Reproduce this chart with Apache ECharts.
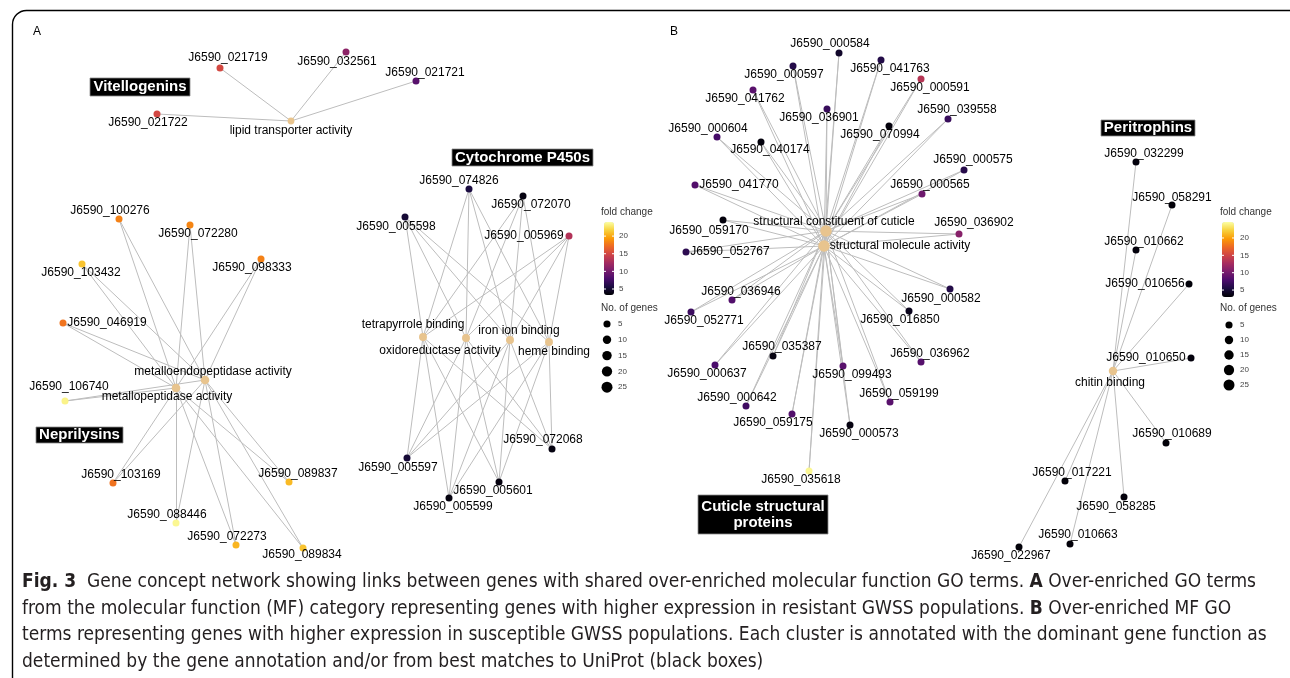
<!DOCTYPE html>
<html>
<head>
<meta charset="utf-8">
<script src="https://cdn.jsdelivr.net/npm/echarts@6/dist/echarts.min.js"></script>
<style>
html, body { margin: 0; padding: 0; background: #fff; }
#chart { width: 1290px; height: 678px; }
</style>
</head>
<body>
<div id="chart"></div>
<script>
// ---- panel A : genes up in resistant populations ----
const genesA = ['J6590_021719', 'J6590_032561', 'J6590_021721', 'J6590_021722',
	'J6590_100276', 'J6590_072280', 'J6590_098333', 'J6590_103432', 'J6590_046919', 'J6590_106740',
	'J6590_103169', 'J6590_089837', 'J6590_088446', 'J6590_072273', 'J6590_089834',
	'J6590_074826', 'J6590_072070', 'J6590_005598', 'J6590_005969', 'J6590_005597',
	'J6590_005599', 'J6590_005601', 'J6590_072068'];
const genesAX = [220, 346, 416, 157, 119, 190, 261, 82, 63, 65, 113, 289, 176, 236, 303, 469, 523, 405, 569, 407, 449, 499, 552];
const genesAY = [68, 52, 81, 114, 219, 225, 259, 264, 323, 401, 483, 482, 523, 545, 548, 189, 196, 217, 236, 458, 498, 482, 449];
const genesAFold = [15.1, 11.2, 8.6, 15.0, 18.2, 18.4, 18.2, 21.1, 17.6, 23.4, 17.5, 20.7, 23.6, 20.5, 21.1,
	5.6, 3.8, 5.2, 13.2, 5.2, 3.7, 3.7, 3.8];
const genesACluster = ['vit', 'vit', 'vit', 'vit',
	'nep', 'nep', 'nep', 'nep', 'nep', 'nep', 'nep', 'nep', 'nep', 'nep', 'nep',
	'p450', 'p450', 'p450', 'p450', 'p450', 'p450', 'p450', 'p450'];

const termsA = ['lipid transporter activity', 'metalloendopeptidase activity', 'metallopeptidase activity',
	'tetrapyrrole binding', 'oxidoreductase activity', 'iron ion binding', 'heme binding'];
const termsAX = [291, 205, 176, 423, 466, 510, 549];
const termsAY = [121, 380, 388, 337, 338, 340, 342];
const termsACount = [4, 11, 11, 8, 8, 8, 8];
const termsACluster = ['vit', 'nep', 'nep', 'p450', 'p450', 'p450', 'p450'];

// ---- panel B : genes up in susceptible populations ----
const genesB = ['J6590_000584', 'J6590_000597', 'J6590_041763', 'J6590_000591', 'J6590_041762',
	'J6590_036901', 'J6590_039558', 'J6590_070994', 'J6590_000604', 'J6590_040174', 'J6590_000575',
	'J6590_041770', 'J6590_000565', 'J6590_059170', 'J6590_036902', 'J6590_052767', 'J6590_000582',
	'J6590_036946', 'J6590_052771', 'J6590_016850', 'J6590_035387', 'J6590_036962', 'J6590_000637',
	'J6590_099493', 'J6590_059199', 'J6590_000642', 'J6590_059175', 'J6590_000573', 'J6590_035618',
	'J6590_032299', 'J6590_058291', 'J6590_010662', 'J6590_010656', 'J6590_010650', 'J6590_010689',
	'J6590_017221', 'J6590_058285', 'J6590_010663', 'J6590_022967'];
const genesBX = [839, 793, 881, 921, 753, 827, 948, 889, 717, 761, 964, 695, 922, 723, 959, 686, 950,
	732, 691, 909, 773, 921, 715, 843, 890, 746, 792, 850, 809,
	1136, 1172, 1136, 1189, 1191, 1166, 1065, 1124, 1070, 1019];
const genesBY = [53, 66, 60, 79, 90, 109, 119, 126, 137, 142, 170, 185, 194, 220, 234, 252, 289,
	300, 312, 311, 356, 362, 365, 366, 402, 406, 414, 425, 471,
	162, 205, 250, 284, 358, 443, 481, 497, 544, 547];
const genesBFold = [4.5, 5.9, 5.8, 13.6, 8.6, 6.9, 6.9, 3.3, 7.6, 3.3, 6.0, 8.2, 9.7, 3.3, 11.0, 6.3, 5.8,
	8.2, 7.1, 4.0, 3.5, 8.4, 7.8, 8.6, 8.6, 7.3, 8.2, 3.5, 24.2,
	3.3, 3.2, 3.3, 3.2, 3.3, 3.2, 3.2, 3.3, 3.2, 3.2];
const genesBCluster = genesB.map((g, i) => (i < 29 ? 'cut' : 'per'));

const termsB = ['structural constituent of cuticle', 'structural molecule activity', 'chitin binding'];
const termsBX = [826, 824, 1113];
const termsBY = [231, 246, 371];
const termsBCount = [29, 29, 10];
const termsBCluster = ['cut', 'cut', 'per'];

// legend keys
const foldTicks = [5, 10, 15, 20];
const sizeKeys = [5, 10, 15, 20, 25];

// ---- label placement (offset of label centre from node) ----
const labelADx = [8, -9, 9, -9, -9, 8, -9, -1, 44, 4, 8, 9, -9, -9, -1, -10, 8, -9, -45, -9, 4, -6, -9];
const labelADy = [-10, 10, -8, 9, -8, 9, 9, 9, 0, -14, -8, -8, -8, -8, 7, -8, 9, 10, 0, 10, 9, 9, -9];
const termADx = [0, 8, -9, -10, -26, 9, 5];
const termADy = [10, -8, 9, -12, 13, -9, 10];
const labelBDx = [-9, -9, 9, 9, -8, -8, 9, -9, -9, 9, 9, 44, 8, -14, 15, 44, -9, 9, 13, -9, 9, 9, -8, 9, 9, -9, -19, 9, -8,
	8, 0, 8, -44, -45, 6, 7, -8, 8, -8];
const labelBDy = [-9, 9, 9, 9, 9, 9, -9, 9, -8, 8, -10, 0, -9, 11, -11, 0, 10, -8, 9, 9, -9, -8, 9, 9, -8, -8, 9, 9, 9,
	-8, -7, -8, 0, 0, -9, -8, 10, -9, 9];
const termBDx = [8, 76, -3];
const termBDy = [-9, 0, 12];

const inferno = ['#000004', '#1b0c41', '#4a0c6b', '#781c6d', '#a52c60', '#cf4446', '#ed6925', '#fb9b06', '#f7d13d', '#fcffa4'];
const labelFont = "'Liberation Sans', Arial, sans-serif";
const capFont = "'Liberation Sans Narrow', 'DejaVu Sans Condensed', sans-serif";

// colour bar geometry (A and B)
const barA = { left: 604, top: 222, width: 10, height: 73, min: 3.3, max: 24 };
const barB = { left: 1222, top: 222, width: 12, height: 75, min: 3.0, max: 24.6 };

function termSize(n) {
	return 4 + 1.4 * Math.sqrt(n);
}

function buildEdges(gx, gy, gc, tx, ty, tc) {
	let out = [];
	for (let t = 0; t < tx.length; t++) {
		for (let g = 0; g < gx.length; g++) {
			if (gc[g] == tc[t]) {
				out.push({ coords: [[gx[g], gy[g]], [tx[t], ty[t]]] });
			}
		}
	}
	return out;
}

function geneData(names, xs, ys, fold, dx, dy) {
	return names.map((n, i) => ({
		name: n,
		value: [xs[i], ys[i], fold[i]],
		label: { offset: [dx[i], dy[i]] }
	}));
}

let termData = termsA.map((n, i) => ({
	name: n, value: [termsAX[i], termsAY[i]],
	symbolSize: termSize(termsACount[i]), label: { offset: [termADx[i], termADy[i]] }
})).concat(termsB.map((n, i) => ({
	name: n, value: [termsBX[i], termsBY[i]],
	symbolSize: termSize(termsBCount[i]), label: { offset: [termBDx[i], termBDy[i]] }
})));

let edges = buildEdges(genesAX, genesAY, genesACluster, termsAX, termsAY, termsACluster)
	.concat(buildEdges(genesBX, genesBY, genesBCluster, termsBX, termsBY, termsBCluster));

let nodeLabel = {
	show: true,
	position: 'inside',
	formatter: '{b}',
	color: '#000',
	fontSize: 12,
	fontFamily: labelFont
};

// ---- graphic pieces ----
let graphic = [];

// frame (rounded top-left corner, runs off the right and bottom)
graphic.push({
	type: 'rect',
	shape: { x: 12.5, y: 10.5, width: 1290, height: 700, r: 14 },
	style: { fill: null, stroke: '#000', lineWidth: 1.4 }
});

function txt(x, y, text, size, fill) {
	return {
		type: 'text', x: x, y: y,
		style: { text: text, fontSize: size, fontFamily: labelFont, fill: fill || '#000', align: 'left', verticalAlign: 'middle' }
	};
}

graphic.push(txt(33, 32, 'A', 12));
graphic.push(txt(670, 32, 'B', 12));

// black annotation boxes
function box(x, y, w, h, text) {
	graphic.push({ type: 'rect', shape: { x: x, y: y, width: w, height: h }, style: { fill: '#000', stroke: '#8a8a8a', lineWidth: 0.8 } });
	graphic.push({
		type: 'text', x: x + w / 2, y: y + h / 2,
		style: { text: text, fontSize: 15, fontWeight: 'bold', fontFamily: labelFont, fill: '#fff', align: 'center', verticalAlign: 'middle', lineHeight: 16 }
	});
}
box(90, 78, 100, 18, 'Vitellogenins');
box(452, 149, 141, 17, 'Cytochrome P450s');
box(36, 427, 87, 16, 'Neprilysins');
box(1101, 120, 94, 16, 'Peritrophins');
box(698, 495, 130, 39, 'Cuticle structural\nproteins');

// legends
function legend(bar, titleX, tickX, dotX, dotY0, dotStep) {
	graphic.push(txt(titleX, 212, 'fold change', 10, '#333'));
	foldTicks.forEach(v => {
		let y = bar.top + bar.height * (bar.max - v) / (bar.max - bar.min);
		graphic.push({ type: 'line', z: 100, shape: { x1: bar.left, y1: y, x2: bar.left + 2, y2: y }, style: { stroke: '#fff', lineWidth: 1 } });
		graphic.push({ type: 'line', z: 100, shape: { x1: bar.left + bar.width - 2, y1: y, x2: bar.left + bar.width, y2: y }, style: { stroke: '#fff', lineWidth: 1 } });
		graphic.push(txt(tickX, y, String(v), 8, '#444'));
	});
	graphic.push(txt(titleX, 308, 'No. of genes', 10, '#333'));
	sizeKeys.forEach((n, i) => {
		let y = dotY0 + i * dotStep;
		graphic.push({ type: 'circle', shape: { cx: dotX, cy: y, r: termSize(n) / 2 }, style: { fill: '#000' } });
		graphic.push(txt(dotX + 11, y, String(n), 8, '#444'));
	});
}
legend(barA, 601, 619, 607, 324, 15.8);
legend(barB, 1220, 1240, 1229, 325, 15);

// caption
const capLines = [
	'{b|Fig. 3}  Gene concept network showing links between genes with shared over-enriched molecular function GO terms. {b|A} Over-enriched GO terms',
	'from the molecular function (MF) category representing genes with higher expression in resistant GWSS populations. {b|B} Over-enriched MF GO',
	'terms representing genes with higher expression in susceptible GWSS populations. Each cluster is annotated with the dominant gene function as',
	'determined by the gene annotation and/or from best matches to UniProt (black boxes)'
];
capLines.forEach((line, i) => {
	graphic.push({
		type: 'text', x: 22, y: 582 + i * 26.7,
		style: {
			text: line, fontSize: 19, fontFamily: capFont, fill: '#231f20', align: 'left', verticalAlign: 'middle',
			rich: { b: { fontSize: 19, fontFamily: capFont, fontWeight: 'bold', fill: '#231f20' } }
		}
	});
});

let chart = echarts.init(document.getElementById('chart'));
chart.setOption({
	animation: false,
	grid: { left: 0, right: 0, top: 0, bottom: 0 },
	xAxis: { type: 'value', min: 0, max: 1290, show: false },
	yAxis: { type: 'value', min: 0, max: 678, inverse: true, show: false },
	visualMap: [
		{
			type: 'continuous', seriesIndex: 1, dimension: 2, min: barA.min, max: barA.max,
			inRange: { color: inferno }, left: barA.left, top: barA.top, itemWidth: barA.width, itemHeight: barA.height,
			padding: 0, calculable: false, hoverLink: false
		},
		{
			type: 'continuous', seriesIndex: 2, dimension: 2, min: barB.min, max: barB.max,
			inRange: { color: inferno }, left: barB.left, top: barB.top, itemWidth: barB.width, itemHeight: barB.height,
			padding: 0, calculable: false, hoverLink: false
		}
	],
	series: [
		{
			type: 'lines',
			coordinateSystem: 'cartesian2d',
			data: edges,
			lineStyle: { color: '#bdbdbd', width: 1, opacity: 1 },
			z: 1,
			silent: true
		},
		{
			type: 'scatter',
			data: geneData(genesA, genesAX, genesAY, genesAFold, labelADx, labelADy),
			symbolSize: 7,
			itemStyle: { opacity: 1 },
			label: nodeLabel,
			z: 3
		},
		{
			type: 'scatter',
			data: geneData(genesB, genesBX, genesBY, genesBFold, labelBDx, labelBDy),
			symbolSize: 7,
			itemStyle: { opacity: 1 },
			label: nodeLabel,
			z: 3
		},
		{
			type: 'scatter',
			data: termData,
			itemStyle: { color: '#e8c48e', opacity: 1 },
			label: nodeLabel,
			z: 2
		}
	],
	graphic: graphic
});
</script>
</body>
</html>
